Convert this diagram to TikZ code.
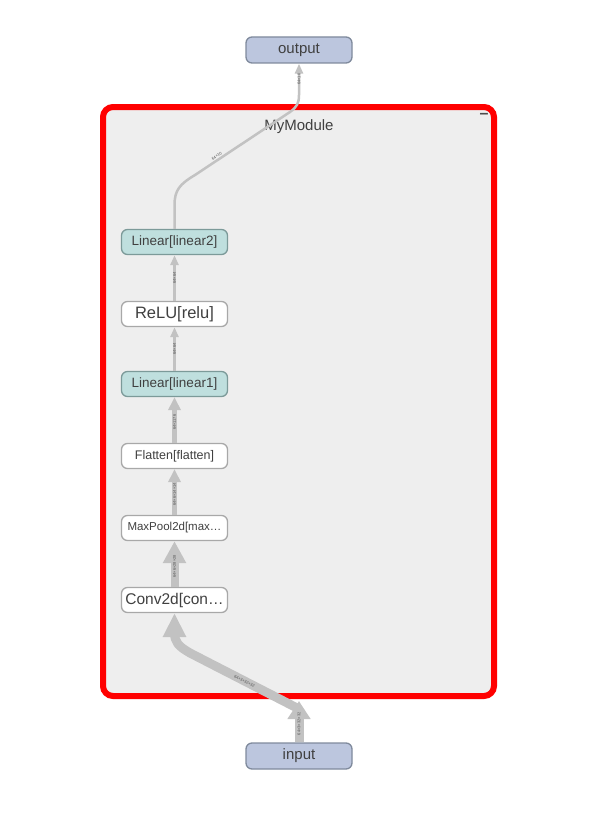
\documentclass[tikz,border=0pt]{standalone}
\usepackage{fontspec}
\setmainfont{Liberation Sans}
\usetikzlibrary{arrows.meta,positioning}
\definecolor{io}{HTML}{BCC6DE}
\definecolor{iob}{HTML}{7F8A9C}
\definecolor{lin}{HTML}{BFDFDE}
\definecolor{linb}{HTML}{7C9A99}
\definecolor{opb}{HTML}{A8A8A8}
\definecolor{edge}{HTML}{C2C2C2}
\definecolor{modbg}{HTML}{EEEEEE}
\definecolor{lbl}{HTML}{555555}

\begin{document}
\begin{tikzpicture}[x=1pt,y=-1pt,
    ionode/.style={rectangle,draw=iob,fill=io,rounded corners=6pt,line width=1.3pt,minimum width=106pt,minimum height=26pt,font=\fontsize{15}{17}\selectfont,text=black!75},
    op/.style={rectangle,draw=opb,fill=white,rounded corners=6pt,line width=1.3pt,minimum width=106pt,minimum height=25pt,text=black!75},
    linop/.style={op,draw=linb,fill=lin},
    flow/.style={draw=edge,line width=#1},
    tip/.style 2 args={-{Triangle[width=#1,length=#2]}},
    shape lbl/.style={sloped,font=\fontsize{4}{4}\selectfont,text=lbl,inner sep=0.5pt},
]
\useasboundingbox (0,0) rectangle (600,816);

% Module frame
\draw[red,line width=6pt,fill=modbg,rounded corners=10pt] (103,107) rectangle (494,696);
\node[font=\fontsize{15}{17}\selectfont,text=black!75] (mod) at (299,127) {MyModule};
\node[font=\fontsize{16}{16}\selectfont\bfseries,text=black!70] (minus) at (484,116) {–};

% Outer nodes
\node[ionode] (output) at (299,50) {output};
\node[ionode] (input) at (299,756) {input};

% Layers
\node[linop,font=\fontsize{13.5}{15}\selectfont] (lin2) at (174.5,242) {Linear[linear2]};
\node[op,font=\fontsize{16.5}{18}\selectfont] (relu) at (174.5,314) {ReLU[relu]};
\node[linop,font=\fontsize{13.5}{15}\selectfont] (lin1) at (174.5,384) {Linear[linear1]};
\node[op,font=\fontsize{12.5}{14}\selectfont] (flat) at (174.5,456) {Flatten[flatten]};
\node[op,font=\fontsize{11.5}{13}\selectfont] (pool) at (174.5,528) {MaxPool2d[max…};
\node[op,font=\fontsize{15.5}{17}\selectfont] (conv) at (174.5,600) {Conv2d[con…};

% Entry point of the module
\coordinate (entry) at (299,709);

% Edges
\draw[flow=9pt,edge,tip={22pt}{18pt}] (input.north) -- node[shape lbl,pos=.45]{64×3×32×32} (299,701);
\draw[flow=9pt,edge,tip={22pt}{24pt}] (entry) -- node[shape lbl,pos=.5]{64×3×32×32} (190,653)
    .. controls (178,646) and (174.5,642) .. (174.5,632) -- (conv.south);
\draw[flow=8pt,edge,tip={22pt}{22pt}] (conv.north) -- node[shape lbl,pos=.45]{64×6×28×28} (pool.south);
\draw[flow=5pt,edge,tip={12pt}{13pt}] (pool.north) -- node[shape lbl,pos=.45]{64×6×14×14} (flat.south);
\draw[flow=5pt,edge,tip={12pt}{13pt}] (flat.north) -- node[shape lbl,pos=.45]{64×1176} (lin1.south);
\draw[flow=3pt,edge,tip={8pt}{10pt}] (lin1.north) -- node[shape lbl,pos=.5]{64×64} (relu.south);
\draw[flow=3pt,edge,tip={8pt}{10pt}] (relu.north) -- node[shape lbl,pos=.5]{64×64} (lin2.south);
\draw[flow=2.5pt,edge,tip={8pt}{10pt}] (lin2.north) -- (174.5,205)
    .. controls (174.5,190) and (180,184) .. (195,175)
    -- node[shape lbl,pos=.25,above=0.5pt]{64×10} (290,112)
    .. controls (297,107) and (299,103) .. (299,95)
    -- node[shape lbl,pos=.5]{64×10} (output.south);
\end{tikzpicture}
\end{document}
